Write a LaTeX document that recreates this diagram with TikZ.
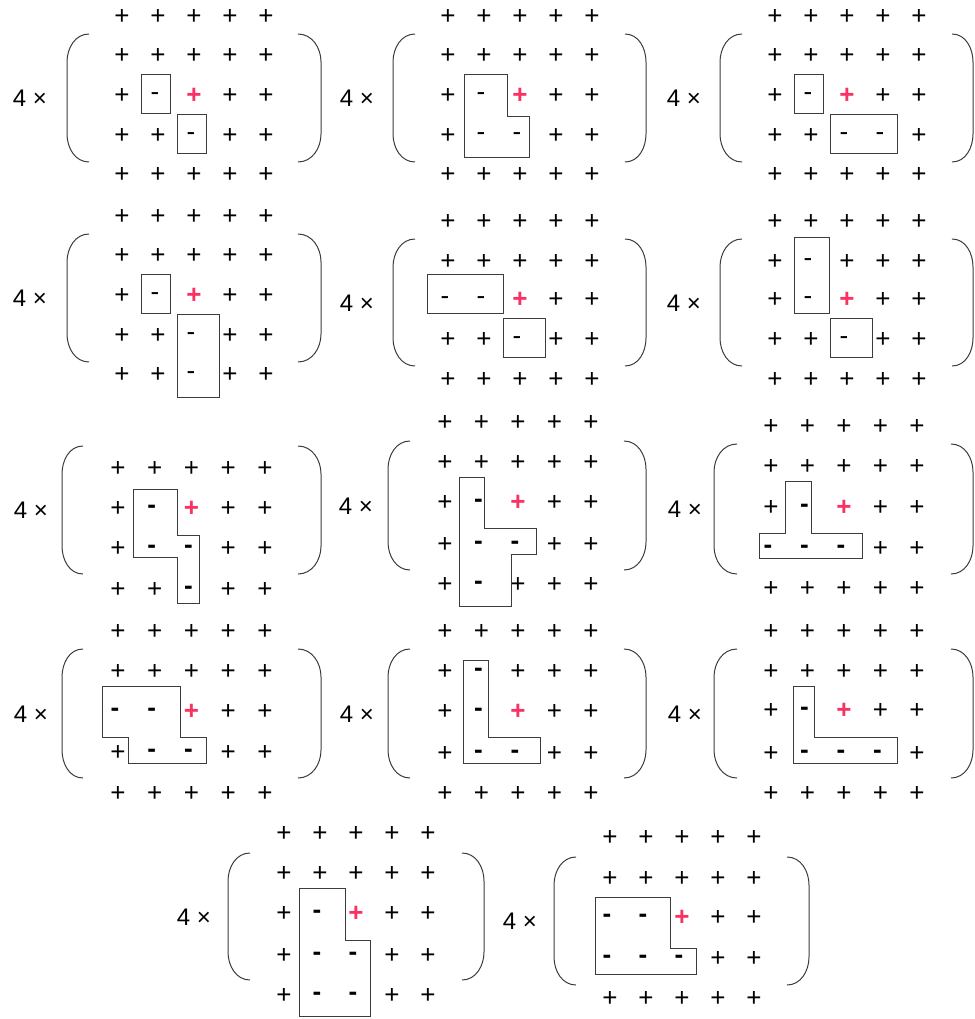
\documentclass[tikz,border=0pt]{standalone}
\usepackage{fontspec}
\setmainfont{Liberation Sans}
\definecolor{hot}{RGB}{250,50,100}
\definecolor{lin}{RGB}{60,60,60}
\tikzset{
 pl/.style={inner sep=0pt, text height=18.4pt, text depth=0pt, font=\fontsize{26}{30}\selectfont},
 rpl/.style={pl, text=hot, font=\fontsize{26}{30}\selectfont\bfseries},
 mi/.style={inner sep=0pt, text height=13.9pt, text depth=0pt, font=\fontsize{26}{30}\selectfont},
 mib/.style={mi, font=\fontsize{26}{30}\selectfont\bfseries},
 mult/.style={inner sep=0pt, text height=17.3pt, text depth=0pt, font=\fontsize{24}{28}\selectfont},
 shapebox/.style={draw=lin, line width=0.9pt},
 parline/.style={draw=lin, line width=1pt},
}
\newcommand\pgrow[6]{%
  \foreach \c [count=\k] in {#6}{%
    \pgfmathsetmacro\xx{#4+(\k-1)*#5}%
    \if\c p\node[pl] (#1r#2c\k) at (\xx,#3) {+};\fi
    \if\c r\node[rpl] (#1r#2c\k) at (\xx,#3) {+};\fi
    \if\c m\node[mi] (#1r#2c\k) at (\xx-3,#3) {-};\fi
    \if\c M\node[mib] (#1r#2c\k) at (\xx-3,#3) {-};\fi
  }}
\newcommand\parpair[6]{%
  \draw[parline] (#2,#5) to[out=180,in=90] (#1,#5+28) -- (#1,#6-28) to[out=-90,in=180] (#2,#6);
  \draw[parline] (#3,#5) to[out=0,in=90] (#4,#5+28) -- (#4,#6-28) to[out=-90,in=0] (#3,#6);}
\begin{document}
\begin{tikzpicture}[x=1pt,y=-1pt]
\useasboundingbox (0,0) rectangle (974,1019);
% ---- panel 1
\node[mult] (t1) at (30,98) {4 ×};
\parpair{67}{89}{298}{321}{34}{162}
\pgrow{a}{1}{15}{122}{36}{p,p,p,p,p}
\pgrow{a}{2}{54}{122}{36}{p,p,p,p,p}
\pgrow{a}{3}{94}{122}{36}{p,m,r,p,p}
\pgrow{a}{4}{134}{122}{36}{p,p,m,p,p}
\pgrow{a}{5}{173}{122}{36}{p,p,p,p,p}
\draw[shapebox] (141,74) rectangle (170,113);
\draw[shapebox] (177,114) rectangle (206,153);
% ---- panel 2
\node[mult] (t2) at (357,98) {4 ×};
\parpair{393}{415}{625}{646}{34}{162}
\pgrow{b}{1}{15}{448}{36}{p,p,p,p,p}
\pgrow{b}{2}{54}{448}{36}{p,p,p,p,p}
\pgrow{b}{3}{94}{448}{36}{p,m,r,p,p}
\pgrow{b}{4}{134}{448}{36}{p,m,m,p,p}
\pgrow{b}{5}{173}{448}{36}{p,p,p,p,p}
\draw[shapebox] (464,74) -- (507,74) -- (507,116) -- (529,116) -- (529,157) -- (464,157) -- cycle;
% ---- panel 3
\node[mult] (t3) at (684,98) {4 ×};
\parpair{720}{742}{952}{973}{34}{162}
\pgrow{c}{1}{15}{775}{36}{p,p,p,p,p}
\pgrow{c}{2}{54}{775}{36}{p,p,p,p,p}
\pgrow{c}{3}{94}{775}{36}{p,m,r,p,p}
\pgrow{c}{4}{134}{775}{36}{p,p,m,m,p}
\pgrow{c}{5}{173}{775}{36}{p,p,p,p,p}
\draw[shapebox] (794,74) rectangle (823,113);
\draw[shapebox] (830,114) rectangle (897,153);
% ---- panel 4
\node[mult] (t4) at (30,298) {4 ×};
\parpair{67}{89}{298}{321}{234}{362}
\pgrow{d}{1}{215}{122}{36}{p,p,p,p,p}
\pgrow{d}{2}{254}{122}{36}{p,p,p,p,p}
\pgrow{d}{3}{294}{122}{36}{p,m,r,p,p}
\pgrow{d}{4}{334}{122}{36}{p,p,m,p,p}
\pgrow{d}{5}{373}{122}{36}{p,p,m,p,p}
\draw[shapebox] (141,274) rectangle (170,313);
\draw[shapebox] (177,314) rectangle (219,397);
% ---- panel 5
\node[mult] (t5) at (357,303) {4 ×};
\parpair{393}{415}{625}{646}{239}{366}
\pgrow{e}{1}{220}{448}{36}{p,p,p,p,p}
\pgrow{e}{2}{260}{448}{36}{p,p,p,p,p}
\pgrow{e}{3}{298}{448}{36}{m,m,r,p,p}
\pgrow{e}{4}{338}{448}{36}{p,p,m,p,p}
\pgrow{e}{5}{378}{448}{36}{p,p,p,p,p}
\draw[shapebox] (427,274) rectangle (503,313);
\draw[shapebox] (503,318) rectangle (545,357);
% ---- panel 6
\node[mult] (t6) at (684,303) {4 ×};
\parpair{720}{742}{952}{973}{239}{366}
\pgrow{f}{1}{220}{775}{36}{p,p,p,p,p}
\pgrow{f}{2}{260}{775}{36}{p,m,p,p,p}
\pgrow{f}{3}{298}{775}{36}{p,m,r,p,p}
\pgrow{f}{4}{338}{775}{36}{p,p,m,p,p}
\pgrow{f}{5}{378}{775}{36}{p,p,p,p,p}
\draw[shapebox] (794,237) rectangle (829,313);
\draw[shapebox] (830,318) rectangle (872,357);
% ---- panel 7
\node[mult] (t7) at (31,510) {4 ×};
\parpair{62}{83}{298}{321}{446}{574}
\pgrow{g}{2}{467}{118}{36.75}{p,p,p,p,p}
\pgrow{g}{3}{507}{118}{36.75}{p,M,r,p,p}
\pgrow{g}{4}{547}{118}{36.75}{p,M,M,p,p}
\pgrow{g}{5}{588}{118}{36.75}{p,p,M,p,p}
\draw[shapebox] (133,489) -- (177,489) -- (177,535) -- (199,535) -- (199,603) -- (177,603) -- (177,557) -- (133,557) -- cycle;
% ---- panel 8
\node[mult] (t8) at (356,506) {4 ×};
\parpair{388}{410}{624}{646}{441}{570}
\pgrow{h}{1}{421}{445}{36.5}{p,p,p,p,p}
\pgrow{h}{2}{461}{445}{36.5}{p,p,p,p,p}
\pgrow{h}{3}{501}{445}{36.5}{p,M,r,p,p}
\pgrow{h}{4}{543}{445}{36.5}{p,M,M,p,p}
\pgrow{h}{5}{583}{445}{36.5}{p,M,p,p,p}
\draw[shapebox] (459,477) -- (484,477) -- (484,528) -- (536,528) -- (536,554) -- (511,554) -- (511,606) -- (459,606) -- cycle;
% ---- panel 9
\node[mult] (t9) at (685,509) {4 ×};
\parpair{714}{737}{951}{973}{444}{574}
\pgrow{i}{1}{425}{771}{36.5}{p,p,p,p,p}
\pgrow{i}{2}{465}{771}{36.5}{p,p,p,p,p}
\pgrow{i}{3}{506}{771}{36.5}{p,M,r,p,p}
\pgrow{i}{4}{547}{771}{36.5}{M,M,M,p,p}
\pgrow{i}{5}{587}{771}{36.5}{p,p,p,p,p}
\draw[shapebox] (785,481) -- (811,481) -- (811,533) -- (862,533) -- (862,558) -- (759,558) -- (759,533) -- (785,533) -- cycle;
% ---- panel 10
\node[mult] (t10) at (31,714) {4 ×};
\parpair{62}{83}{298}{321}{649}{778}
\pgrow{j}{1}{630}{118}{36.75}{p,p,p,p,p}
\pgrow{j}{2}{670}{118}{36.75}{p,p,p,p,p}
\pgrow{j}{3}{710}{118}{36.75}{M,M,r,p,p}
\pgrow{j}{4}{751}{118}{36.75}{p,M,M,p,p}
\pgrow{j}{5}{792}{118}{36.75}{p,p,p,p,p}
\draw[shapebox] (102,686) -- (180,686) -- (180,737) -- (206,737) -- (206,763) -- (128,763) -- (128,737) -- (102,737) -- cycle;
% ---- panel 11
\node[mult] (t11) at (357,714) {4 ×};
\parpair{388}{410}{624}{646}{649}{778}
\pgrow{k}{1}{630}{445}{36.5}{p,p,p,p,p}
\pgrow{k}{2}{670}{445}{36.5}{p,M,p,p,p}
\pgrow{k}{3}{710}{445}{36.5}{p,M,r,p,p}
\pgrow{k}{4}{752}{445}{36.5}{p,M,M,p,p}
\pgrow{k}{5}{792}{445}{36.5}{p,p,p,p,p}
\draw[shapebox] (463,660) -- (488,660) -- (488,737) -- (540,737) -- (540,763) -- (463,763) -- cycle;
% ---- panel 12
\node[mult] (t12) at (685,714) {4 ×};
\parpair{714}{737}{951}{973}{649}{778}
\pgrow{l}{1}{630}{771}{36.5}{p,p,p,p,p}
\pgrow{l}{2}{670}{771}{36.5}{p,p,p,p,p}
\pgrow{l}{3}{709}{771}{36.5}{p,M,r,p,p}
\pgrow{l}{4}{752}{771}{36.5}{p,M,M,M,p}
\pgrow{l}{5}{792}{771}{36.5}{p,p,p,p,p}
\draw[shapebox] (793,686) -- (814,686) -- (814,737) -- (897,737) -- (897,763) -- (793,763) -- cycle;
% ---- panel 13
\node[mult] (t13) at (194,917) {4 ×};
\parpair{228}{250}{462}{484}{853}{980}
\pgrow{m}{1}{832}{284}{36}{p,p,p,p,p}
\pgrow{m}{2}{872}{284}{36}{p,p,p,p,p}
\pgrow{m}{3}{912}{284}{36}{p,M,r,p,p}
\pgrow{m}{4}{954}{284}{36}{p,M,M,p,p}
\pgrow{m}{5}{994}{284}{36}{p,M,M,p,p}
\draw[shapebox] (299,888) -- (345,888) -- (345,940) -- (370,940) -- (370,1016) -- (299,1016) -- cycle;
% ---- panel 14
\node[mult] (t14) at (520,921) {4 ×};
\parpair{554}{576}{787}{809}{857}{985}
\pgrow{n}{1}{836}{610}{36}{p,p,p,p,p}
\pgrow{n}{2}{877}{610}{36}{p,p,p,p,p}
\pgrow{n}{3}{916}{610}{36}{M,M,r,p,p}
\pgrow{n}{4}{957}{610}{36}{M,M,M,p,p}
\pgrow{n}{5}{997}{610}{36}{p,p,p,p,p}
\draw[shapebox] (595,897) -- (670,897) -- (670,948) -- (696,948) -- (696,974) -- (595,974) -- cycle;
\end{tikzpicture}
\end{document}
